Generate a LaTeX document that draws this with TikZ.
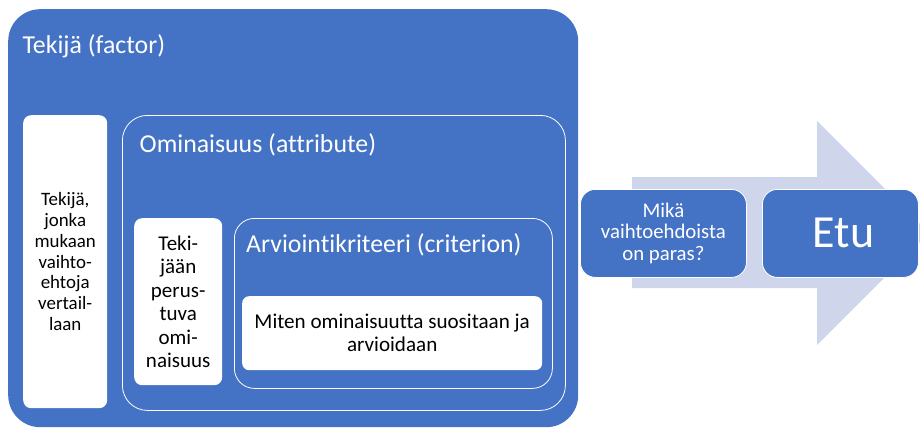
\documentclass[tikz,border=0pt]{standalone}
\usepackage{fontspec}
\setmainfont{Carlito}[Ligatures=NoCommon]
\definecolor{boxblue}{HTML}{4472C4}
\definecolor{arrowfill}{HTML}{CFD5EA}
\begin{document}
\begin{tikzpicture}[x=1pt,y=-1pt,
  bluebox/.style={fill=boxblue, anchor=north west, inner sep=0pt},
  framebox/.style={fill=boxblue, draw=white, line width=0.8pt, anchor=north west, inner sep=0pt},
  whitebox/.style={fill=white, anchor=north west, inner sep=0pt, align=center, text=black},
  titletext/.style={anchor=base west, inner sep=0pt, text=white, font=\fontsize{25.8}{30}\selectfont},
]
\useasboundingbox (0,0) rectangle (920,428);
\clip (0,0) rectangle (920,428);

% background arrow
\fill[arrowfill] (632,177) -- (817,177) -- (817,121) -- (929,233)
  -- (817,345) -- (817,288) -- (632,288) -- cycle;

% factor box
\node[bluebox, rounded corners=32pt, minimum width=570, minimum height=418] (factor) at (8,9) {};
\node[titletext] (factortitle) at (22.5,53) {Tekijä (factor)};
\node[whitebox, rounded corners=8pt, minimum width=84, minimum height=293,
  font=\fontsize{18.9}{20.8}\selectfont] (factortext) at (23,115)
  {Tekijä,\\jonka\\mukaan\\vaihto-\\ehtoja\\vertail-\\laan};

% attribute box
\node[framebox, rounded corners=25pt, minimum width=443, minimum height=295] (attr) at (122,115) {};
\node[titletext] (attrtitle) at (139.5,152) {Ominaisuus (attribute)};
\node[whitebox, rounded corners=8pt, minimum width=88, minimum height=167,
  font=\fontsize{21}{23.4}\selectfont] (attrtext) at (134,218)
  {Teki-\\jään\\perus-\\tuva\\omi-\\naisuus};

% criterion box
\node[framebox, rounded corners=20pt, minimum width=318, minimum height=170] (crit) at (234,218) {};
\node[titletext] (crittitle) at (246,252) {Arviointikriteeri (criterion)};
\node[whitebox, rounded corners=7pt, minimum width=300, minimum height=74,
  font=\fontsize{21.1}{23}\selectfont] (crittext) at (242,296)
  {Miten ominaisuutta suositaan ja\\arvioidaan};

% result boxes
\node[framebox, rounded corners=15pt, minimum width=166, minimum height=88,
  align=center, text=white, font=\fontsize{20.8}{21.8}\selectfont] (best) at (580,189)
  {Mikä\\vaihtoehdoista\\on paras?};
\node[framebox, rounded corners=15pt, minimum width=156, minimum height=88,
  text=white, font=\fontsize{46}{50}\selectfont] (etu) at (762,189) {\hspace*{6pt}Etu};
\end{tikzpicture}
\end{document}
